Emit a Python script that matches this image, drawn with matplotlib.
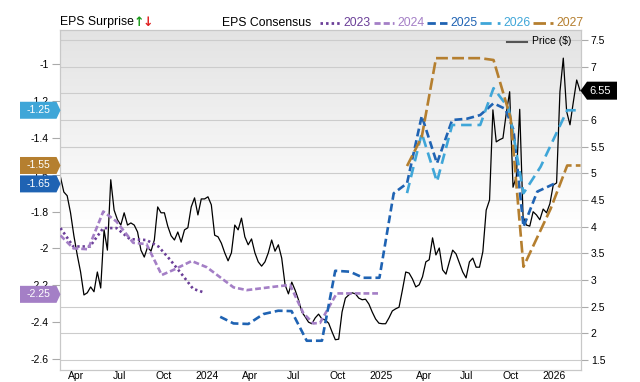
import numpy as np
import pandas as pd
import matplotlib
matplotlib.use("Agg")
import matplotlib.pyplot as plt
import matplotlib.dates as mdates
from matplotlib.patches import Polygon
from matplotlib.lines import Line2D
from matplotlib.colors import LinearSegmentedColormap
from matplotlib.ticker import FuncFormatter

plt.rcParams['font.family'] = ['Liberation Sans', 'DejaVu Sans']

# weekly closing price ($)
price = [4.93, 4.65, 4.58, 4.26, 3.83, 3.47, 3.15, 2.72, 2.76, 2.87,
         2.78, 3.15, 2.85, 3.94, 3.56, 4.88, 4.31, 4.13, 4.03, 4.26,
         4.03, 4.07, 4.03, 3.90, 3.56, 3.43, 3.62, 3.54, 3.75, 4.37,
         4.26, 4.26, 4.01, 3.83, 3.75, 3.90, 3.71, 3.94, 3.98, 4.37,
         4.54, 4.22, 4.52, 4.52, 4.56, 4.41, 3.84, 3.81, 3.69, 3.51,
         3.36, 3.51, 4.03, 3.94, 4.16, 3.81, 3.66, 3.77, 3.51, 3.34,
         3.26, 3.34, 3.51, 3.75, 3.54, 3.66, 3.41, 2.91, 2.74, 2.96,
         2.81, 2.63, 2.40, 2.31, 2.21, 2.18, 2.29, 2.36, 2.27, 2.25,
         2.19, 2.03, 1.88, 1.89, 2.40, 2.66, 2.72, 2.76, 2.74, 2.66,
         2.63, 2.64, 2.55, 2.40, 2.27, 2.19, 2.18, 2.18, 2.29, 2.42,
         2.46, 2.49, 2.81, 3.15, 3.13, 3.02, 2.87, 2.91, 3.06, 3.34,
         3.38, 3.79, 3.47, 3.60, 3.19, 3.11, 3.34, 3.56, 3.49, 3.32,
         3.15, 3.04, 3.34, 3.41, 3.24, 3.24, 3.53, 4.31, 4.50, 6.19,
         5.59, 5.63, 5.66, 6.13, 6.53, 4.74, 4.94, 6.20, 4.19, 4.03,
         4.01, 4.28, 4.22, 4.13, 4.33, 4.26, 4.43, 4.78, 4.82, 6.53,
         7.16, 6.16, 5.91, 6.34, 6.75, 6.55]
price_dates = pd.date_range('2023-02-27', '2026-02-24', periods=len(price))

# EPS consensus by fiscal year
eps23_dates = pd.to_datetime(['2023-02-27', '2023-03-26', '2023-04-30', '2023-05-28',
                              '2023-06-25', '2023-07-23', '2023-08-27', '2023-09-21',
                              '2023-10-15', '2023-11-12', '2023-12-03', '2023-12-26'])
eps23 = [-1.89, -1.99, -1.99, -1.89, -1.89, -1.95, -1.955, -1.99, -2.06, -2.15, -2.22, -2.24]

eps24_dates = pd.to_datetime(['2023-02-27', '2023-03-26', '2023-04-26', '2023-05-28',
                              '2023-06-25', '2023-07-30', '2023-08-27', '2023-09-28',
                              '2023-10-22', '2023-11-30', '2024-01-01', '2024-02-26',
                              '2024-03-25', '2024-05-20', '2024-06-24', '2024-07-22',
                              '2024-08-12', '2024-08-26', '2024-09-30', '2024-12-31'])
eps24 = [-1.93, -2.00, -2.005, -1.80, -1.855, -1.97, -1.977, -2.145, -2.118, -2.069,
         -2.103, -2.212, -2.227, -2.209, -2.199, -2.353, -2.408, -2.405, -2.245, -2.245]

eps25_dates = pd.to_datetime(['2024-01-29', '2024-02-26', '2024-03-28', '2024-04-29',
                              '2024-05-30', '2024-06-27', '2024-07-29', '2024-08-30',
                              '2024-09-27', '2024-10-28', '2024-11-25', '2024-12-29',
                              '2025-01-28', '2025-02-25', '2025-03-28', '2025-04-29',
                              '2025-05-31', '2025-07-01', '2025-07-29', '2025-08-26',
                              '2025-09-20', '2025-10-07', '2025-10-28', '2025-11-26',
                              '2025-12-31'])
eps25 = [-2.372, -2.408, -2.411, -2.357, -2.339, -2.341, -2.502, -2.502, -2.122, -2.127,
         -2.16, -2.16, -1.701, -1.647, -1.281, -1.538, -1.303, -1.296, -1.276, -1.212,
         -1.243, -1.357, -1.883, -1.692, -1.65]

eps26_dates = pd.to_datetime(['2025-02-25', '2025-03-28', '2025-04-29', '2025-05-31',
                              '2025-07-29', '2025-08-26', '2025-09-27', '2025-10-28',
                              '2025-12-03', '2026-01-28', '2026-02-25'])
eps26 = [-1.70, -1.375, -1.638, -1.33, -1.33, -1.13, -1.239, -1.701, -1.557, -1.25, -1.25]

eps27_dates = pd.to_datetime(['2025-02-25', '2025-03-28', '2025-04-27', '2025-07-29',
                              '2025-08-26', '2025-10-01', '2025-10-28', '2025-12-24',
                              '2026-01-28', '2026-02-25'])
eps27 = [-1.553, -1.395, -0.967, -0.967, -0.977, -1.293, -2.10, -1.786, -1.55, -1.55]

years = ['2023', '2024', '2025', '2026', '2027']
colors = ['#6b3f98', '#a47fc6', '#1f63b3', '#3fa6d8', '#b57f2f']
styles = [(0, (0.9, 1.1)), (0, (2.2, 1.1)), (0, (3.0, 1.5)), (0, (4.0, 2.2)), (0, (4.5, 1.6))]
last_values = ['', '-2.25', '-1.65', '-1.25', '-1.55']

W, H = 640, 382
fig = plt.figure(figsize=(W / 100, H / 100), dpi=100)
ax = fig.add_axes([60 / W, 12 / H, 521 / W, 340 / H])
ax2 = ax.twinx()
ax.set_zorder(2)
ax2.set_zorder(1)
ax.patch.set_visible(False)

# background gradient
g = np.linspace(0, 1, 256).reshape(-1, 1)
g = np.clip((g - 0.42) / 0.58, 0, 1)
cmap = LinearSegmentedColormap.from_list('bg', ['#ffffff', '#e3e3e3'])
ax2.imshow(g, extent=[0, 1, 0, 1], transform=ax2.transAxes, cmap=cmap,
           aspect='auto', origin='lower', zorder=0, vmin=0, vmax=1)

ax2.plot(price_dates, price, color='black', lw=0.9, zorder=3)

series = [(eps23_dates, eps23), (eps24_dates, eps24), (eps25_dates, eps25),
          (eps26_dates, eps26), (eps27_dates, eps27)]
for (d, v), c, ls in zip(series, colors, styles):
    ax.plot(d, v, color=c, lw=1.9, linestyle=ls, zorder=3)

xmin, xmax = pd.Timestamp('2023-02-26'), pd.Timestamp('2026-02-26')
ax.set_xlim(xmin, xmax)
ax2.set_xlim(xmin, xmax)
ax.set_ylim(-2.661, -0.814)
ax2.set_ylim(1.3125, 7.6875)

ax.set_yticks(np.round(np.arange(-2.6, -0.99, 0.2), 1))
ax.yaxis.set_major_formatter(FuncFormatter(lambda v, p: f'{v:g}'))
ax2.set_yticks(np.arange(1.5, 7.6, 0.5))
ax2.yaxis.set_major_formatter(FuncFormatter(lambda v, p: f'{v:g}'))

ax.xaxis.set_major_locator(mdates.MonthLocator(bymonth=[1, 4, 7, 10]))


def xfmt(x, pos):
    d = mdates.num2date(x)
    return str(d.year) if d.month == 1 else d.strftime('%b')


ax.xaxis.set_major_formatter(FuncFormatter(xfmt))

ax2.grid(True, color='#cccccc', lw=0.8)
ax2.set_axisbelow(True)
ax.tick_params(axis='y', length=6, color='#aaaaaa', labelsize=7.5, pad=2)
ax.tick_params(axis='x', length=0, labelsize=7.5, pad=1)
ax2.tick_params(axis='y', length=5, color='#aaaaaa', labelsize=7.5, pad=2)
for a in (ax, ax2):
    for s in a.spines.values():
        s.set_color('#c8c8c8')

# price legend inside plot
ytop = 1 - 41.5 / H
fig.add_artist(Line2D([507 / W, 527 / W], [ytop, ytop], color='#555555', lw=1.5))
fig.text(532 / W, ytop, 'Price ($)', va='center', ha='left', fontsize=7.5)

# top legend
yl = 1 - 22.5 / H
fig.text(60 / W, yl, 'EPS Surprise', va='center', ha='left', fontsize=8.8)
fig.text(134 / W, yl, '↑', va='center', ha='left', fontsize=9, color='#1a9a1a',
         family='DejaVu Sans', weight='bold')
fig.text(143 / W, yl, '↓', va='center', ha='left', fontsize=9, color='#e02020',
         family='DejaVu Sans', weight='bold')
fig.text(222 / W, yl, 'EPS Consensus', va='center', ha='left', fontsize=8.8)
line_x = [320, 374, 427, 480, 533]
for x0, yr, c, ls in zip(line_x, years, colors, styles):
    fig.add_artist(Line2D([x0 / W, (x0 + 20) / W], [yl, yl], color=c, lw=2, linestyle=ls))
    fig.text((x0 + 23) / W, yl, yr, va='center', ha='left', fontsize=8.8, color=c)

# value badges
inv = fig.transFigure.inverted()


def badge(yv, text, color, left=True):
    if left:
        yd = ax.transData.transform((mdates.date2num(xmin), yv))[1]
        pts = [(20, yd - 8.5), (56.5, yd - 8.5), (60.5, yd), (56.5, yd + 8.5), (20, yd + 8.5)]
        tx = 38
        fs = 7.5
    else:
        yd = ax2.transData.transform((mdates.date2num(xmin), yv))[1]
        pts = [(580.5, yd), (587, yd + 9), (617, yd + 9), (617, yd - 9), (587, yd - 9)]
        tx = 600
        fs = 8
    pts = inv.transform(pts)
    fig.add_artist(Polygon(pts, closed=True, facecolor=color, edgecolor='none',
                           transform=fig.transFigure, zorder=10))
    t = inv.transform((tx, yd))
    fig.text(t[0], t[1], text, color='white', ha='center', va='center', fontsize=fs, zorder=11)


for yr, c, lv in zip(years, colors, last_values):
    if lv:
        badge(float(lv), lv, c)
badge(price[-1], f'{price[-1]:.2f}', 'black', left=False)

fig.savefig('out.png', dpi=100)
